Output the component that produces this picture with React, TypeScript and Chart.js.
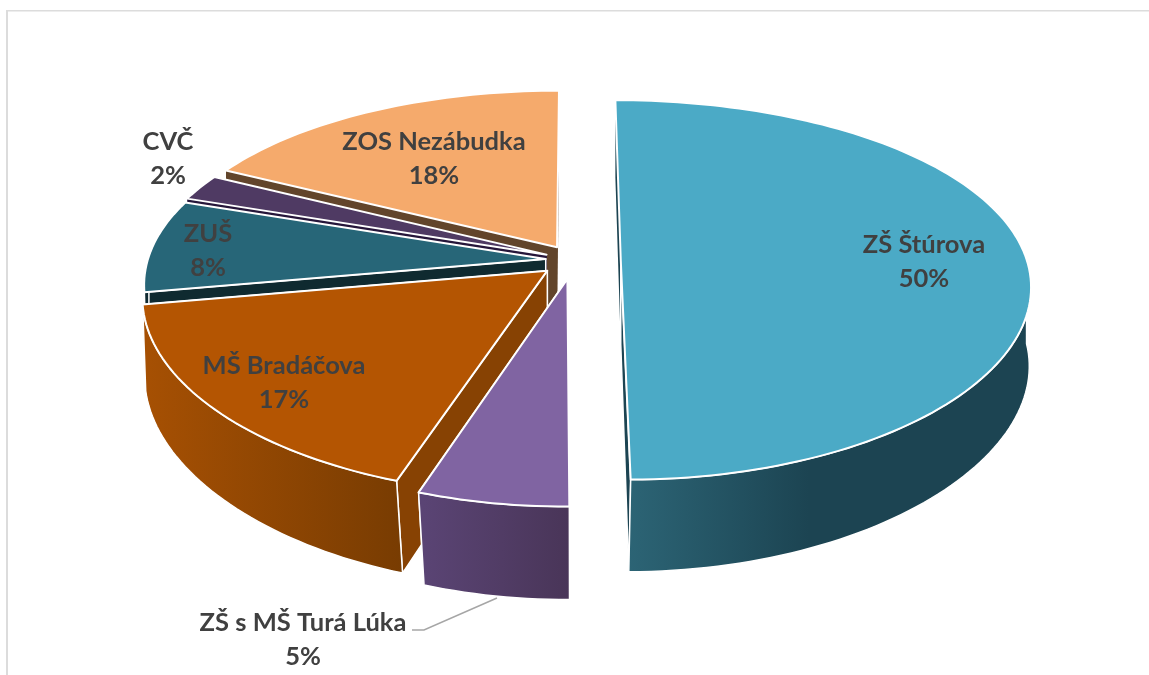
import React, { useEffect, useRef } from "react";
import { Chart, registerables } from "chart.js";

Chart.register(...registerables);

const categories = ["ZŠ Štúrova", "ZŠ s MŠ Turá Lúka", "MŠ Bradáčova", "ZUŠ", "CVČ", "ZOS Nezábudka"];
const shares = [49.9, 5.3, 17, 8, 2.3, 17.5];
const explode = [126, 112, 96, 78, 82, 90];
const topColors = ["#4BAAC6", "#8064A2", "#B45502", "#276678", "#4F3A63", "#F5AA6C"];
const wallLight = ["#2C6475", "#5A4474", "#A65003", "#102A31", "#2C1F3A", "#7A5030"];
const wallDark = ["#1C4452", "#493558", "#783C02", "#102A31", "#2C1F3A", "#5F4128"];
const edgeColors = ["#1C4452", "#493558", "#874203", "#0F2A30", "#26163A", "#62452B"];
const labelSpots = [[924, 245], [303, 623], [284, 366], [208, 234], [168, 142], [434, 142]];

const X0 = 574, Y0 = 260, A_RIGHT = 406, A_LEFT = 398, B = 185, PX = 0.13, PY = 0.158, Q = 0.03, D = 87;

function project(u: number, v: number, z: number): [number, number] {
  const a = u < 0 ? A_LEFT : A_RIGHT;
  const shrink = Q * z * Math.max(v, 0);
  return [X0 + (a * u) / (1 - PX * v + shrink), Y0 + (B * v + D * z) / (1 - PY * v + Q * z)];
}

function poly(ctx: CanvasRenderingContext2D, pts: [number, number][]) {
  ctx.beginPath();
  pts.forEach((p, i) => (i ? ctx.lineTo(p[0], p[1]) : ctx.moveTo(p[0], p[1])));
  ctx.closePath();
}

const piePlugin = {
  id: "pie3d",
  beforeDraw(chart: any) {
    const ctx = chart.ctx;
    ctx.fillStyle = "#DCDCDC";
    ctx.fillRect(6, 10, 1143, 1.5);
    ctx.fillRect(6, 10, 2, 665);
  },
  beforeDatasetsDraw(chart: any) {
    const ctx: CanvasRenderingContext2D = chart.ctx;
    const arcs = chart.getDatasetMeta(0).data;
    const order = arcs.map((_: any, i: number) => i).reverse();
    ctx.save();
    ctx.lineJoin = "round";
    ctx.strokeStyle = "#FFFFFF";
    for (const i of order) {
      const el = arcs[i];
      const R = el.outerRadius;
      const a0 = el.startAngle, a1 = el.endAngle;
      const mid = (a0 + a1) / 2;
      const e = el.options.offset / 4 / R;
      const ex = Math.cos(mid) * e, ey = Math.sin(mid) * e;
      const n = Math.max(6, Math.ceil((a1 - a0) * 40));
      const rim: [number, number][] = [];
      const front: [number, number][] = [];
      for (let k = 0; k <= n; k++) {
        const a = a0 + ((a1 - a0) * k) / n;
        const p: [number, number] = [ex + Math.cos(a), ey + Math.sin(a)];
        rim.push(p);
        if (Math.sin(a) > -0.02) front.push(p);
      }
      const apexTop = project(ex, ey, 0);
      const apexBottom = project(ex, ey, 1);
      // radial walls, the one further back first
      ctx.lineWidth = 1.5;
      const ends = Math.sin(a0) < Math.sin(a1) ? [0, n] : [n, 0];
      for (const k of ends) {
        const p = rim[k];
        ctx.fillStyle = edgeColors[i];
        poly(ctx, [apexTop, project(p[0], p[1], 0), project(p[0], p[1], 1), apexBottom]);
        ctx.fill();
        if (Math.sin(k === 0 ? a0 : a1) > 0) ctx.stroke();
      }
      // outer wall: only the part that faces the viewer
      if (front.length > 1) {
        const t = front.map((p) => project(p[0], p[1], 0));
        const b = front.map((p) => project(p[0], p[1], 1));
        const xs = b.map((p) => p[0]);
        const minX = Math.min(...xs);
        const g = ctx.createLinearGradient(minX, 0, i === 0 ? minX + 180 : Math.max(...xs), 0);
        g.addColorStop(0, wallLight[i]);
        g.addColorStop(1, wallDark[i]);
        ctx.fillStyle = g;
        poly(ctx, [...t, ...b.slice().reverse()]);
        ctx.fill();
        ctx.stroke();
      }
      // top face
      ctx.lineWidth = 2;
      ctx.fillStyle = el.options.backgroundColor;
      poly(ctx, [apexTop, ...rim.map((p) => project(p[0], p[1], 0))]);
      ctx.fill();
      ctx.stroke();
    }
    ctx.restore();
    return false;
  },
  afterDraw(chart: any) {
    const ctx: CanvasRenderingContext2D = chart.ctx;
    const values = chart.data.datasets[0].data;
    ctx.save();
    ctx.strokeStyle = "#A6A6A6";
    ctx.lineWidth = 1.5;
    ctx.beginPath();
    ctx.moveTo(497, 598);
    ctx.lineTo(424, 630);
    ctx.lineTo(412, 630);
    ctx.stroke();
    ctx.fillStyle = "#404040";
    ctx.font = "bold 25.5px Lato";
    ctx.textAlign = "center";
    ctx.textBaseline = "middle";
    chart.data.labels.forEach((name: string, i: number) => {
      const [x, y] = labelSpots[i];
      ctx.fillText(name, x, y);
      ctx.fillText(Math.round(values[i]) + "%", x, y + 33.5);
    });
    ctx.restore();
  },
};

export default function App() {
  const ref = useRef<HTMLCanvasElement>(null);
  useEffect(() => {
    const chart = new Chart(ref.current as HTMLCanvasElement, {
      type: "pie",
      data: {
        labels: categories,
        datasets: [{ data: shares, backgroundColor: topColors, borderColor: "#FFFFFF", offset: explode }],
      },
      options: {
        responsive: false,
        animation: false,
        plugins: { legend: { display: false }, tooltip: { enabled: false } },
      },
      plugins: [piePlugin],
    } as any);
    return () => chart.destroy();
  }, []);
  return (
    <div style={{ position: "absolute", left: 0, top: 0, width: 1149, height: 675, background: "#FFFFFF" }}>
      <canvas ref={ref} width={1149} height={675} style={{ display: "block" }} />
    </div>
  );
}
